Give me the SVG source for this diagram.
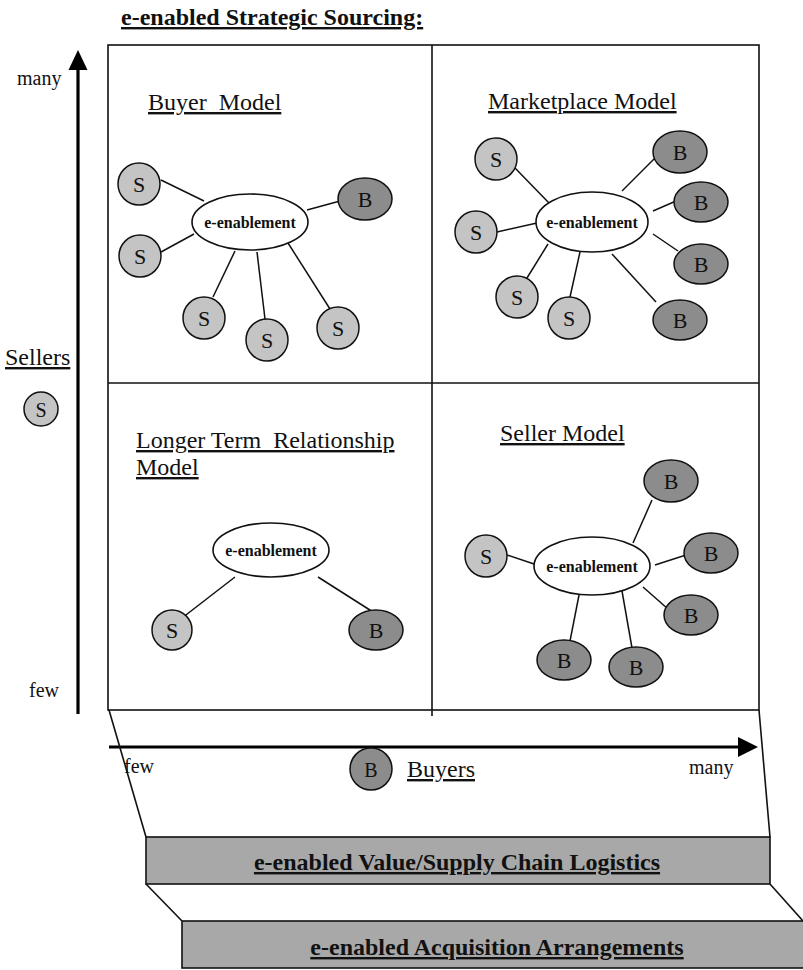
<svg xmlns="http://www.w3.org/2000/svg" width="803" height="970" viewBox="0 0 803 970">
  <defs>
    <style>
      .serif { font-family: "Liberation Serif", "Times New Roman", serif; fill: #111; }
      .title { font-size: 24px; font-weight: bold; text-decoration: underline; }
      .label { font-size: 24px; text-decoration: underline; }
      .axis { font-size: 20px; }
      .hub-text { font-size: 16px; font-weight: bold; text-anchor: middle; }
      .node-text { font-size: 22px; text-anchor: middle; }
      .bar-text { font-size: 24px; font-weight: bold; text-decoration: underline; text-anchor: middle; }
      .frame { fill: none; stroke: #111; stroke-width: 1.6; }
      .hub { fill: #fff; stroke: #111; stroke-width: 1.6; }
      .seller { fill: #c4c4c4; stroke: #111; stroke-width: 1.5; }
      .buyer { fill: #8c8c8c; stroke: #111; stroke-width: 1.5; }
      .bar { fill: #a8a8a8; stroke: #111; stroke-width: 1.6; }
      .link { stroke: #111; stroke-width: 1.5; fill: none; }
      .axis-line { stroke: #000; stroke-width: 3.2; fill: none; }
    </style>
  </defs>

  <rect width="803" height="970" fill="#fff"/>

  <!-- heading -->
  <text class="serif title" x="121" y="25">e-enabled Strategic Sourcing:</text>

  <!-- matrix frame -->
  <g id="matrix">
    <rect class="frame" x="108" y="45" width="651" height="665"/>
    <line class="frame" x1="432" y1="45" x2="432" y2="716"/>
    <line class="frame" x1="108" y1="383" x2="759" y2="383"/>
  </g>

  <!-- axes -->
  <g id="axes">
    <line class="axis-line" x1="78" y1="714" x2="78" y2="66"/>
    <polygon points="78,50 68.5,70 87.5,70" fill="#000"/>
    <line class="axis-line" x1="109" y1="747" x2="742" y2="747"/>
    <polygon points="758,747 738,737 738,757" fill="#000"/>
    <text class="serif axis" x="17" y="85">many</text>
    <text class="serif axis" x="29" y="697">few</text>
    <text class="serif axis" x="124" y="773">few</text>
    <text class="serif axis" x="689" y="774">many</text>
  </g>

  <!-- axis legends -->
  <g id="sellers-legend">
    <text class="serif label" x="5" y="365">Sellers</text>
    <circle class="seller" cx="41" cy="409" r="17"/>
    <text class="serif node-text" x="41" y="417" style="font-size:20px">S</text>
  </g>
  <g id="buyers-legend">
    <ellipse class="buyer" cx="371" cy="769" rx="21" ry="21"/>
    <text class="serif node-text" x="371" y="777" style="font-size:20px">B</text>
    <text class="serif label" x="407" y="777">Buyers</text>
  </g>

  <!-- quadrant titles -->
  <text class="serif label" x="148" y="110" xml:space="preserve">Buyer  Model</text>
  <text class="serif label" x="488" y="109">Marketplace Model</text>
  <text class="serif label" x="136" y="448" xml:space="preserve">Longer Term  Relationship</text>
  <text class="serif label" x="136" y="475">Model</text>
  <text class="serif label" x="500" y="441">Seller Model</text>

  <!-- connectors -->
  <g id="connectors">
    <!-- buyer model -->
    <line class="link" x1="161" y1="180" x2="204" y2="201"/>
    <line class="link" x1="161" y1="252" x2="194" y2="234"/>
    <line class="link" x1="213" y1="297" x2="235" y2="251"/>
    <line class="link" x1="265" y1="319" x2="257" y2="252"/>
    <line class="link" x1="330" y1="309" x2="288" y2="243"/>
    <line class="link" x1="307" y1="210" x2="340" y2="201"/>
    <!-- marketplace model -->
    <line class="link" x1="515" y1="168" x2="549" y2="203"/>
    <line class="link" x1="497" y1="232" x2="537" y2="223"/>
    <line class="link" x1="527" y1="278" x2="548" y2="244"/>
    <line class="link" x1="570" y1="297" x2="580" y2="252"/>
    <line class="link" x1="622" y1="191" x2="657" y2="156"/>
    <line class="link" x1="653" y1="211" x2="676" y2="201"/>
    <line class="link" x1="653" y1="234" x2="678" y2="251"/>
    <line class="link" x1="612" y1="254" x2="656" y2="302"/>
    <!-- longer term relationship model -->
    <line class="link" x1="182" y1="618" x2="235" y2="577"/>
    <line class="link" x1="318" y1="577" x2="373" y2="612"/>
    <!-- seller model -->
    <line class="link" x1="507" y1="555" x2="537" y2="565"/>
    <line class="link" x1="652" y1="500" x2="633" y2="543"/>
    <line class="link" x1="655" y1="565" x2="686" y2="555"/>
    <line class="link" x1="643" y1="587" x2="668" y2="609"/>
    <line class="link" x1="580" y1="590" x2="570" y2="641"/>
    <line class="link" x1="622" y1="591" x2="632" y2="648"/>
  </g>

  <!-- Buyer Model nodes -->
  <g id="bm-hub"><ellipse class="hub" cx="250" cy="222" rx="58" ry="28"/><text class="serif hub-text" x="250" y="228">e-enablement</text></g>
  <g id="bm-s1"><circle class="seller" cx="139" cy="184" r="21"/><text class="serif node-text" x="139" y="192">S</text></g>
  <g id="bm-s2"><circle class="seller" cx="140" cy="256" r="21"/><text class="serif node-text" x="140" y="264">S</text></g>
  <g id="bm-s3"><circle class="seller" cx="204" cy="318" r="21"/><text class="serif node-text" x="204" y="326">S</text></g>
  <g id="bm-s4"><circle class="seller" cx="267" cy="340" r="21"/><text class="serif node-text" x="267" y="348">S</text></g>
  <g id="bm-s5"><circle class="seller" cx="338" cy="328" r="21"/><text class="serif node-text" x="338" y="336">S</text></g>
  <g id="bm-b1"><ellipse class="buyer" cx="365" cy="199" rx="27" ry="21"/><text class="serif node-text" x="365" y="207">B</text></g>

  <!-- Marketplace Model nodes -->
  <g id="mm-hub"><ellipse class="hub" cx="592" cy="222" rx="56" ry="30"/><text class="serif hub-text" x="592" y="228">e-enablement</text></g>
  <g id="mm-s1"><circle class="seller" cx="496" cy="159" r="21"/><text class="serif node-text" x="496" y="167">S</text></g>
  <g id="mm-s2"><circle class="seller" cx="476" cy="232" r="21"/><text class="serif node-text" x="476" y="240">S</text></g>
  <g id="mm-s3"><circle class="seller" cx="517" cy="297" r="21"/><text class="serif node-text" x="517" y="305">S</text></g>
  <g id="mm-s4"><circle class="seller" cx="569" cy="318" r="21"/><text class="serif node-text" x="569" y="326">S</text></g>
  <g id="mm-b1"><ellipse class="buyer" cx="680" cy="152" rx="27" ry="21"/><text class="serif node-text" x="680" y="160">B</text></g>
  <g id="mm-b2"><ellipse class="buyer" cx="701" cy="202" rx="27" ry="20"/><text class="serif node-text" x="701" y="210">B</text></g>
  <g id="mm-b3"><ellipse class="buyer" cx="701" cy="264" rx="27" ry="20"/><text class="serif node-text" x="701" y="272">B</text></g>
  <g id="mm-b4"><ellipse class="buyer" cx="680" cy="320" rx="27" ry="20"/><text class="serif node-text" x="680" y="328">B</text></g>

  <!-- Longer Term Relationship Model nodes -->
  <g id="lt-hub"><ellipse class="hub" cx="271" cy="550" rx="58" ry="27"/><text class="serif hub-text" x="271" y="556">e-enablement</text></g>
  <g id="lt-s1"><circle class="seller" cx="172" cy="630" r="20"/><text class="serif node-text" x="172" y="638">S</text></g>
  <g id="lt-b1"><ellipse class="buyer" cx="376" cy="630" rx="27" ry="20"/><text class="serif node-text" x="376" y="638">B</text></g>

  <!-- Seller Model nodes -->
  <g id="sm-hub"><ellipse class="hub" cx="592" cy="566" rx="58" ry="29"/><text class="serif hub-text" x="592" y="572">e-enablement</text></g>
  <g id="sm-s1"><circle class="seller" cx="486" cy="556" r="21"/><text class="serif node-text" x="486" y="564">S</text></g>
  <g id="sm-b1"><ellipse class="buyer" cx="671" cy="481" rx="27" ry="21"/><text class="serif node-text" x="671" y="489">B</text></g>
  <g id="sm-b2"><ellipse class="buyer" cx="711" cy="553" rx="27" ry="20"/><text class="serif node-text" x="711" y="561">B</text></g>
  <g id="sm-b3"><ellipse class="buyer" cx="691" cy="615" rx="27" ry="20"/><text class="serif node-text" x="691" y="623">B</text></g>
  <g id="sm-b4"><ellipse class="buyer" cx="564" cy="660" rx="27" ry="20"/><text class="serif node-text" x="564" y="668">B</text></g>
  <g id="sm-b5"><ellipse class="buyer" cx="636" cy="667" rx="27" ry="20"/><text class="serif node-text" x="636" y="675">B</text></g>

  <!-- supporting layers -->
  <g id="layer-logistics">
    <line class="frame" x1="109" y1="710" x2="146" y2="837"/>
    <line class="frame" x1="759" y1="710" x2="770" y2="837"/>
    <rect class="bar" x="146" y="837" width="624" height="47"/>
    <text class="serif bar-text" x="457" y="870">e-enabled Value/Supply Chain Logistics</text>
  </g>
  <g id="layer-acquisition">
    <line class="frame" x1="146" y1="884" x2="182" y2="921"/>
    <line class="frame" x1="770" y1="884" x2="803" y2="921"/>
    <rect class="bar" x="182" y="921" width="625" height="47"/>
    <text class="serif bar-text" x="497" y="955">e-enabled Acquisition Arrangements</text>
  </g>
</svg>
